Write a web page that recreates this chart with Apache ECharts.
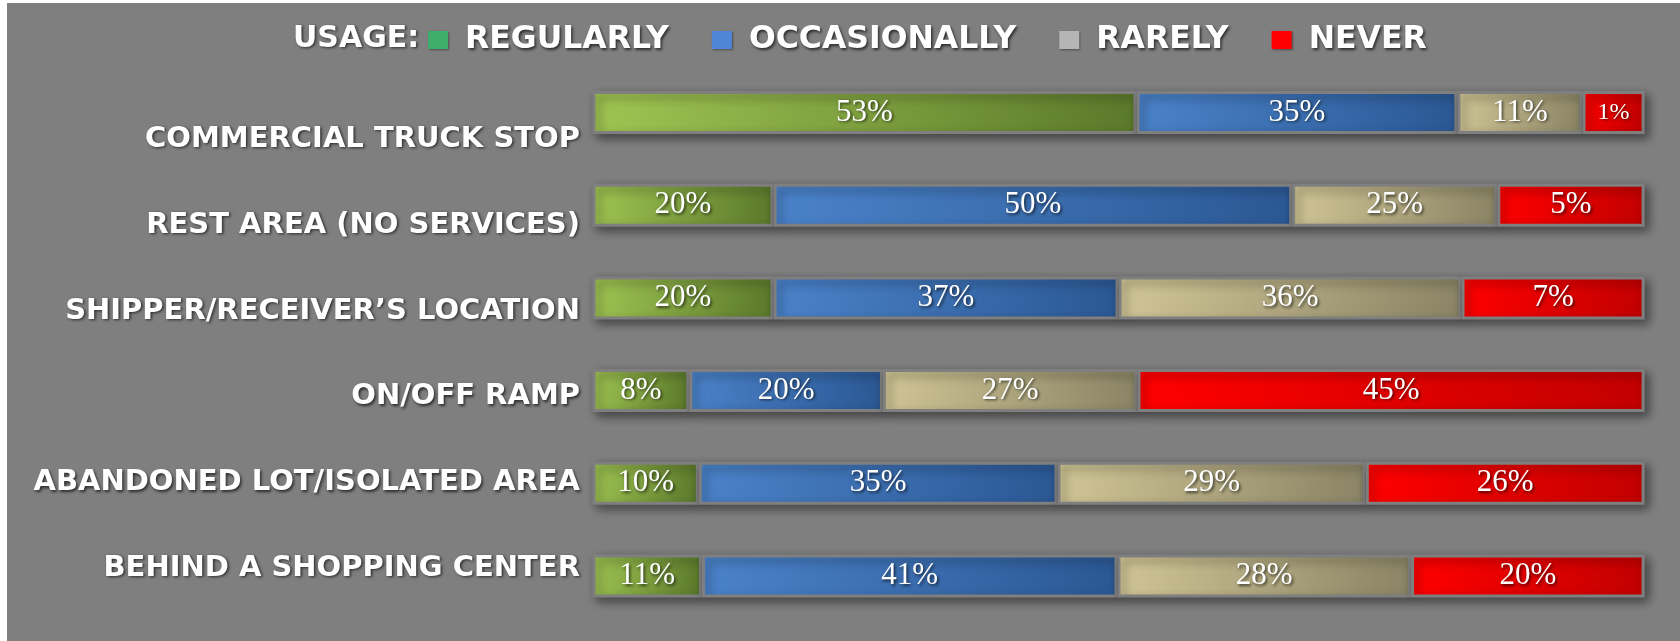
<!DOCTYPE html>
<html>
<head>
<meta charset="utf-8">
<script src="https://cdn.jsdelivr.net/npm/echarts@6/dist/echarts.min.js"></script>
<style>
html,body{margin:0;padding:0;background:#ffffff;width:1680px;height:641px;overflow:hidden;}
#chart{position:absolute;left:7px;top:3px;width:1673px;height:638px;background:#7f7f7f;}
</style>
</head>
<body>
<div id="chart"></div>
<script>
const categories = ['COMMERCIAL TRUCK STOP','REST AREA (NO SERVICES)','SHIPPER/RECEIVER\u2019S LOCATION','ON/OFF RAMP','ABANDONED LOT/ISOLATED AREA','BEHIND A SHOPPING CENTER'];
const seriesNames = ['REGULARLY','OCCASIONALLY','RARELY','NEVER'];
// bar segment lengths as drawn (share of each bar, %)
const regularly    = [51.7, 17.2, 17.2,  9.2, 10.1, 10.4];
const occasionally = [30.5, 49.3, 32.8, 18.4, 34.1, 39.5];
const rarely       = [11.9, 19.5, 32.6, 24.2, 29.3, 27.9];
const never        = [ 5.9, 14.0, 17.4, 48.2, 26.5, 22.2];
// percentages printed on the segments
const regularlyLabels    = [53, 20, 20,  8, 10, 11];
const occasionallyLabels = [35, 50, 37, 20, 35, 41];
const rarelyLabels       = [11, 25, 36, 27, 29, 28];
const neverLabels        = [ 1,  5,  7, 45, 26, 20];

const values = [regularly, occasionally, rarely, never];
const printed = [regularlyLabels, occasionallyLabels, rarelyLabels, neverLabels];
const gradients = [
  ['#9fc452', '#5b792b'],
  ['#4a82c9', '#2b5894'],
  ['#d0c595', '#8a8465'],
  ['#ff0000', '#c20000']
];
const legendColors = ['#3fae6c', '#4f86d6', '#b5b5b5', '#ff0000'];

const chart = echarts.init(document.getElementById('chart'));
const textShadow = {textShadowColor:'rgba(0,0,0,0.65)', textShadowBlur:3, textShadowOffsetX:1.5, textShadowOffsetY:1.5};

const series = seriesNames.map(function(name, s){
  return {
    name: name,
    type: 'bar',
    stack: 'total',
    barWidth: 43,
    xAxisIndex: 0,
    yAxisIndex: 0,
    itemStyle: {
      color: new echarts.graphic.LinearGradient(0,0,1,0.3,[{offset:0,color:gradients[s][0]},{offset:1,color:gradients[s][1]}]),
      borderColor: '#7f7f7f',
      borderWidth: 3,
      shadowColor: 'rgba(0,0,0,0.45)',
      shadowBlur: 10,
      shadowOffsetX: 4,
      shadowOffsetY: 4
    },
    label: {
      show: true,
      position: 'inside',
      color: '#ffffff',
      fontFamily: '"Liberation Serif", "Times New Roman", serif',
      fontSize: 31,
      ...textShadow,
      formatter: function(p){ return printed[s][p.dataIndex] + '%'; }
    },
    data: values[s].map(function(v, i){
      const item = {value: v};
      if (printed[s][i] < 3) item.label = {fontSize: 24};
      return item;
    })
  };
});

chart.setOption({
  animation: false,
  backgroundColor: '#7f7f7f',
  title: {
    text: 'USAGE:',
    left: 286,
    top: 21,
    padding: 0,
    textStyle: {color:'#ffffff', fontFamily:'"DejaVu Sans", sans-serif', fontWeight:'bold', fontSize:30, ...textShadow}
  },
  legend: {
    left: 421,
    top: 21,
    padding: 0,
    itemWidth: 20,
    itemHeight: 18,
    itemGap: 43,
    icon: 'rect',
    textStyle: {color:'#ffffff', fontFamily:'"DejaVu Sans", sans-serif', fontWeight:'bold', fontSize:31.5, padding:[0,0,0,12], ...textShadow},
    data: seriesNames.map(function(n, i){ return {name:n, itemStyle:{color:legendColors[i], borderWidth:0, shadowBlur:2, shadowColor:'rgba(0,0,0,0.4)', shadowOffsetX:1, shadowOffsetY:1}}; })
  },
  grid: [
    {left: 585.5, right: 35.4, top: 63.2, bottom: 18.7},
    {left: 585.5, right: 35.4, top: 93.5, bottom: 29.7}
  ],
  xAxis: [
    {gridIndex:0, type:'value', min:0, max:100, show:false},
    {gridIndex:1, type:'value', min:0, max:100, show:false}
  ],
  yAxis: [
    {gridIndex:0, type:'category', data:categories, inverse:true, axisLine:{show:false}, axisTick:{show:false}, axisLabel:{show:false}, splitLine:{show:false}},
    {gridIndex:1, type:'category', data:categories, inverse:true, axisLine:{show:false}, axisTick:{show:false}, splitLine:{show:false},
      axisLabel:{show:true, margin:12.5, color:'#ffffff', fontFamily:'"DejaVu Sans", sans-serif', fontWeight:'bold', fontSize:29, ...textShadow}}
  ],
  series: series
});
</script>
</body>
</html>
